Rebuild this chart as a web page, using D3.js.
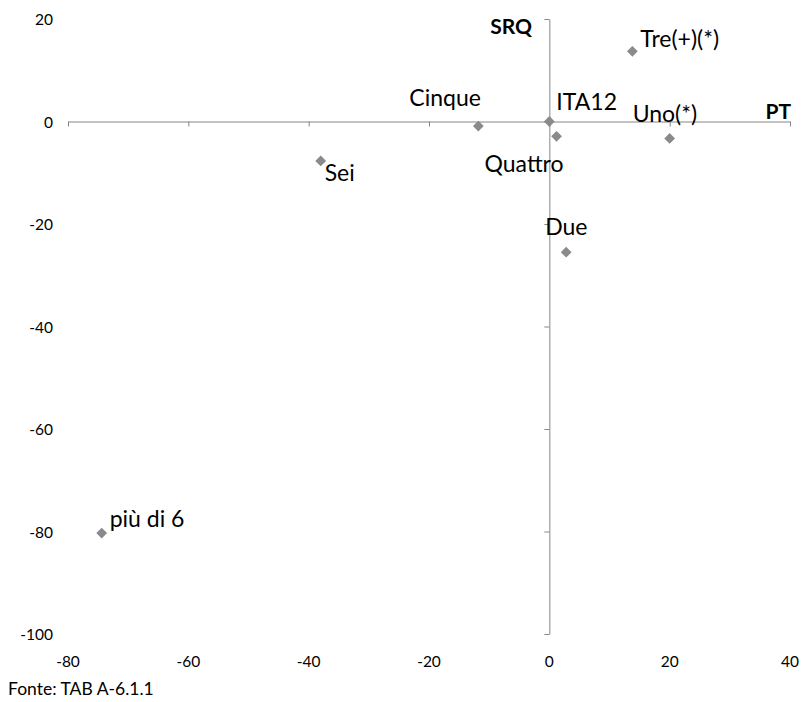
<!DOCTYPE html>
<html><head><meta charset="utf-8">
<script src="https://cdn.jsdelivr.net/npm/d3@7"></script>
<style>body{margin:0;background:#fff;} text{font-family:Lato,"Open Sans",sans-serif;}</style>
</head><body>
<svg id="c" width="803" height="702"></svg>
<script>
const names = ["Tre(+)(*)","Uno(*)","ITA12","Quattro","Cinque","Sei","Due","più di 6"];
const xValues = [13.8, 20.0, 0.0, 1.2, -11.8, -38.0, 2.8, -74.4];
const yValues = [13.7, -3.3, 0.0, -2.9, -0.9, -7.7, -25.5, -80.3];
const xTicks = [-80,-60,-40,-20,0,20,40];
const yTicks = [20,0,-20,-40,-60,-80,-100];
const labelOffsets = {"Tre(+)(*)":[8,-13],"Uno(*)":[-37,-25],"ITA12":[7,-21],"Quattro":[-72,27],"Cinque":[-69,-29],"Sei":[4,11],"Due":[-21,-26],"più di 6":[8,-15]};

const svg = d3.select("#c");
const x = d3.scaleLinear().domain([-80,40]).range([68,790]);
const y = d3.scaleLinear().domain([-100,20]).range([634,19]);
const axisColor = "#868686";

const gx = svg.append("g").attr("transform",`translate(0,${y(0)})`)
  .call(d3.axisBottom(x).tickValues(xTicks).tickSize(5).tickSizeOuter(0).tickFormat(""));
const gy = svg.append("g").attr("transform",`translate(${x(0)},0)`)
  .call(d3.axisLeft(y).tickValues(yTicks).tickSize(5).tickSizeOuter(0).tickFormat(""));
[gx,gy].forEach(g=>{g.selectAll("path,line").attr("stroke",axisColor).attr("stroke-width",1);});

svg.append("g").selectAll("text").data(xTicks).join("text")
  .attr("x",d=>x(d)).attr("y",661).attr("text-anchor","middle").attr("dominant-baseline","central")
  .attr("font-size",15.5).attr("fill","#000").text(d=>d);
svg.append("g").selectAll("text").data(yTicks).join("text")
  .attr("x",53).attr("y",d=>y(d)).attr("text-anchor","end").attr("dominant-baseline","central")
  .attr("font-size",15.5).attr("fill","#000").text(d=>d);

svg.append("text").attr("x",532).attr("y",25).attr("text-anchor","end").attr("dominant-baseline","central")
  .attr("font-size",21).attr("font-weight","bold").text("SRQ");
svg.append("text").attr("x",791).attr("y",110).attr("text-anchor","end").attr("dominant-baseline","central")
  .attr("font-size",21).attr("font-weight","bold").text("PT");

const data = names.map((n,i)=>({n, x:xValues[i], y:yValues[i]}));
svg.append("g").selectAll("path").data(data).join("path")
  .attr("d", d3.symbol(d3.symbolSquare, 58))
  .attr("transform", d=>`translate(${x(d.x)},${y(d.y)}) rotate(45)`)
  .attr("fill","#8a8a8a");
svg.append("g").selectAll("text").data(data).join("text")
  .attr("x", d=>x(d.x)+labelOffsets[d.n][0])
  .attr("y", d=>y(d.y)+labelOffsets[d.n][1])
  .attr("dominant-baseline","central").attr("font-size",23).attr("fill","#000")
  .text(d=>d.n);

svg.append("text").attr("x",8).attr("y",688).attr("dominant-baseline","central")
  .attr("font-size",17.5).text("Fonte: TAB A-6.1.1");
</script>
</body></html>
